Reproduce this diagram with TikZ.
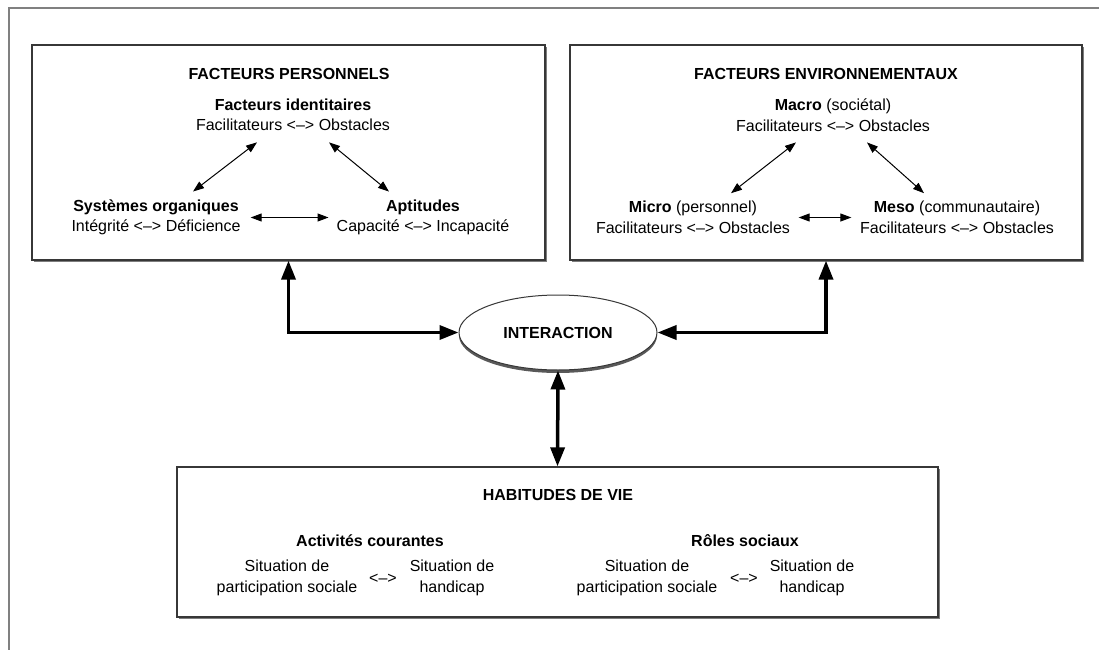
\documentclass[tikz,border=0pt]{standalone}
\usepackage{fontspec}
\setmainfont{Liberation Sans}
\usepackage{tikz}
\usetikzlibrary{arrows.meta,shadows,shapes.geometric}
\definecolor{framegray}{RGB}{128,128,128}
\definecolor{boxline}{RGB}{55,55,55}
\definecolor{shadowgray}{RGB}{125,125,125}

\begin{document}
\begin{tikzpicture}[x=1pt,y=-1pt,
  every node/.style={font=\fontsize{16pt}{20.5pt}\selectfont,inner sep=0pt,align=center},
  panel/.style={draw=boxline,line width=1.2pt,fill=white,
    drop shadow={shadow xshift=1.5pt,shadow yshift=-2pt,fill=shadowgray,opacity=1}},
  thinarr/.style={{Triangle[length=11pt,width=8pt]}-{Triangle[length=11pt,width=8pt]},line width=1pt},
  thickarr/.style={{Triangle[length=19pt,width=14pt]}-{Triangle[length=19pt,width=14pt]},line width=3.5pt}]
  \useasboundingbox (0,0) rectangle (1099,650);
  \draw[framegray,line width=1.5pt] (1099,8) -- (9,8) -- (9,650);

  \node[panel,minimum width=513pt,minimum height=215pt] (pers) at (288.5,152.5) {};
  \node[panel,minimum width=512pt,minimum height=215pt] (env) at (826,152.5) {};
  \node[panel,minimum width=761pt,minimum height=150pt] (habit) at (557.5,542) {};

  \node (titlepers) at (289,74) {\textbf{FACTEURS PERSONNELS}};
  \node (ident) at (293,115) {\textbf{Facteurs identitaires}\\Facilitateurs <–> Obstacles};
  \node (org) at (156,217.5) {\textbf{Systèmes organiques}\\Intégrité <–> Déficience};
  \node (apt) at (423,217.5) {\textbf{Aptitudes}\\Capacité <–> Incapacité};

  \node (titleenv) at (826,74) {\textbf{FACTEURS ENVIRONNEMENTAUX}};
  \node (macro) at (833,115) {\textbf{Macro} (sociétal)\\Facilitateurs <–> Obstacles};
  \node (micro) at (693,217.5) {\textbf{Micro} (personnel)\\Facilitateurs <–> Obstacles};
  \node (meso) at (957,217.5) {\textbf{Meso} (communautaire)\\Facilitateurs <–> Obstacles};

  \node[ellipse,draw=boxline,line width=1pt,fill=white,minimum width=198pt,minimum height=75pt,
    drop shadow={shadow xshift=0pt,shadow yshift=-3pt,fill=black!65,opacity=1}] (inter) at (558,332.5) {\textbf{INTERACTION}};

  \node (titlehab) at (558,495) {\textbf{HABITUDES DE VIE}};
  \node (activ) at (370,541) {\textbf{Activités courantes}};
  \node (roles) at (745,541) {\textbf{Rôles sociaux}};
  \node (partA) at (287,578) {Situation de\\participation sociale};
  \node (sepA) at (383,579) {<–>};
  \node (handA) at (452,578) {Situation de\\handicap};
  \node (partB) at (647,578) {Situation de\\participation sociale};
  \node (sepB) at (744,579) {<–>};
  \node (handB) at (812,578) {Situation de\\handicap};

  \draw[thinarr] ([xshift=-36pt,yshift=-11pt]ident.south) -- ([xshift=37pt,yshift=8pt]org.north);
  \draw[thinarr] ([xshift=36pt,yshift=-11pt]ident.south) -- ([xshift=-34pt,yshift=8pt]apt.north);
  \draw[thinarr] ([xshift=10pt]org.east) -- ([xshift=-8pt]apt.west);
  \draw[thinarr] ([xshift=-37pt,yshift=-11pt]macro.south) -- ([xshift=38pt,yshift=8pt]micro.north);
  \draw[thinarr] ([xshift=34pt,yshift=-11pt]macro.south) -- ([xshift=-33pt,yshift=8pt]meso.north);
  \draw[thinarr] ([xshift=8.5pt]micro.east) -- ([xshift=-8.5pt]meso.west);

  \draw[thickarr] (pers.south) |- (inter.west);
  \draw[thickarr] (env.south) |- (inter.east);
  \draw[thickarr] (inter.south) -- (habit.north);
\end{tikzpicture}
\end{document}
